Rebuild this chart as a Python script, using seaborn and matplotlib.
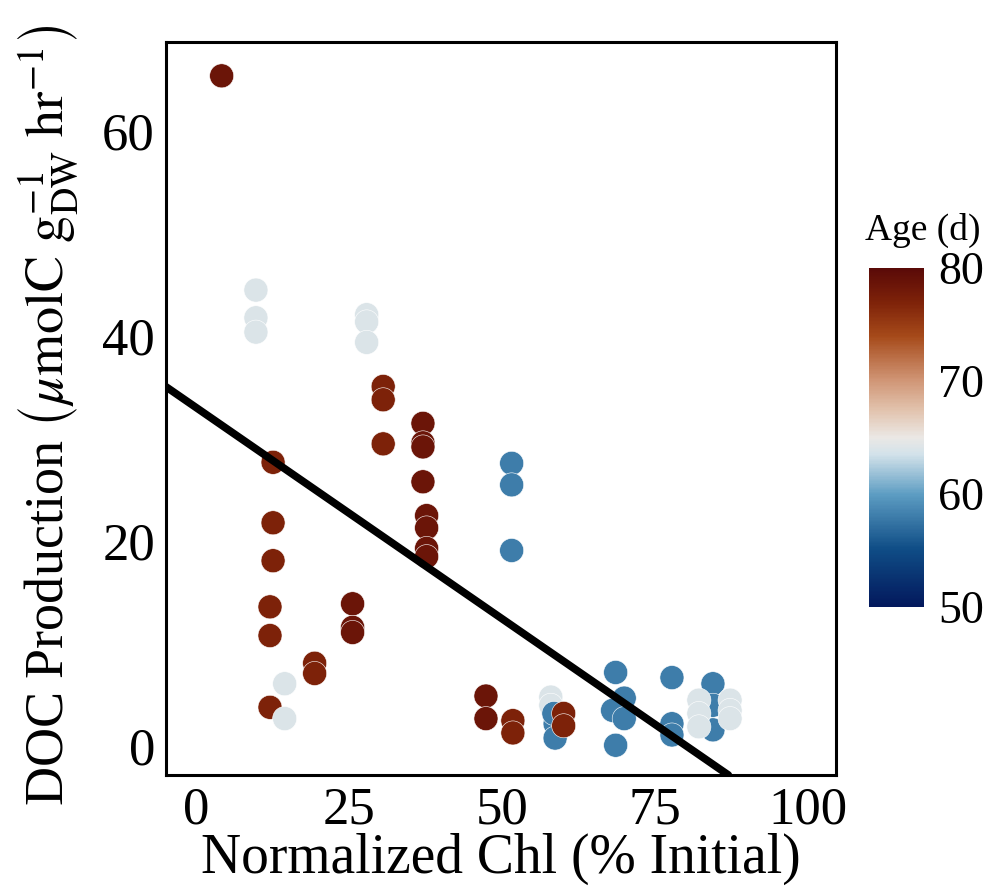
import numpy as np
import pandas as pd
import seaborn as sns
import matplotlib.pyplot as plt
from matplotlib.colors import LinearSegmentedColormap, Normalize
from matplotlib.cm import ScalarMappable

# ======= data =======
chl = [4.2,
       9.8, 9.8, 9.8,
       27.9, 27.9, 27.9,
       12.6, 12.6, 12.6, 12.1, 12.1, 12.1,
       14.5, 14.5,
       19.4, 19.4,
       25.6, 25.6, 25.6,
       30.6, 30.6, 30.6,
       37.1, 37.1, 37.1, 37.1, 37.7, 37.7, 37.7, 37.7,
       51.6, 51.6, 51.6,
       47.4, 47.4,
       51.8, 51.8,
       58.0, 58.0,
       58.7, 58.7, 58.5,
       60.1, 60.1,
       68.6, 70.0, 68.1, 70.0, 68.6,
       77.8, 77.8, 77.8,
       84.5, 84.5, 84.5,
       82.2, 82.2, 82.2,
       87.3, 87.3, 87.3]

doc = [65.4,
       44.5, 41.8, 40.4,
       42.1, 41.4, 39.4,
       27.7, 21.8, 18.1, 13.6, 10.8, 3.8,
       6.1, 2.7,
       8.1, 7.1,
       13.9, 11.6, 11.1,
       35.1, 33.8, 29.5,
       31.5, 29.6, 29.2, 25.8, 22.5, 21.3, 19.3, 18.5,
       27.6, 25.5, 19.1,
       4.9, 2.7,
       2.5, 1.3,
       4.8, 4.0,
       2.2, 0.8, 3.2,
       3.2, 2.0,
       7.2, 4.7, 3.5, 2.7, 0.1,
       6.7, 2.2, 1.1,
       6.1, 4.0, 1.6,
       4.5, 3.2, 1.9,
       4.5, 3.5, 2.7]

age = [78.5,
       64, 64, 64,
       64, 64, 64,
       77, 77, 77, 77, 77, 77,
       64, 64,
       77, 77,
       78.5, 78.5, 78.5,
       77, 77, 77,
       78.5, 78.5, 78.5, 78.5, 78.5, 78.5, 78.5, 78.5,
       58, 58, 58,
       78.5, 78.5,
       77, 77,
       64, 64,
       58, 58, 58,
       77, 77,
       58, 58, 58, 58, 58,
       58, 58, 58,
       58, 58, 58,
       64, 64, 64,
       64, 64, 64]

# linear fit shown in the figure
fit_intercept = 33.05
fit_slope = -0.412

df = pd.DataFrame({"chl": chl, "doc": doc, "age": age})

# ======= colour map (blue - white - brown) =======
cmap = LinearSegmentedColormap.from_list("vik_like", [
    (0.00, "#03185c"),
    (0.17, "#0f4d86"),
    (0.33, "#5c9cc2"),
    (0.45, "#d3e2ea"),
    (0.50, "#ebe8e5"),
    (0.58, "#e2c3ae"),
    (0.67, "#d09575"),
    (0.80, "#a64a1a"),
    (0.90, "#7e2209"),
    (1.00, "#5a0a08"),
])
norm = Normalize(50, 80)

sns.set_style("white")
plt.rcParams["font.family"] = ["Liberation Serif", "DejaVu Serif"]
plt.rcParams["mathtext.fontset"] = "stix"
plt.rcParams["text.color"] = "black"
plt.rcParams["axes.labelcolor"] = "black"

fig = plt.figure(figsize=(9.91, 8.92), dpi=100)
ax = fig.add_axes([0.1675, 0.1312, 0.676, 0.8217])

sns.scatterplot(data=df, x="chl", y="doc", hue="age", palette=cmap,
                hue_norm=norm, s=300, edgecolor="white", linewidth=0.4,
                legend=False, ax=ax, zorder=2)

ax.axline((0, fit_intercept), slope=fit_slope, color="black", lw=5.5, zorder=3)

ax.set_xlim(-4.9, 104.6)
ax.set_ylim(-2.8, 68.7)
ax.set_xticks([0, 25, 50, 75, 100])
ax.set_yticks([0, 20, 40, 60])
ax.tick_params(axis="both", direction="out", length=6, width=1.2,
               labelsize=38, color="#333333", labelcolor="black", pad=2)
for sp in ax.spines.values():
    sp.set_linewidth(2.2)
    sp.set_color("black")

ax.set_xlabel("Normalized Chl (% Initial)", fontsize=40, labelpad=-1)
ax.set_ylabel(r"DOC Production $\left(\mu\mathrm{molC\ g_{DW}^{-1}\ hr^{-1}}\right)$",
              fontsize=39)
ax.yaxis.set_label_coords(-0.128, 0.49)

# ======= colour bar =======
cax = fig.add_axes([0.877, 0.3195, 0.0555, 0.380])
sm = ScalarMappable(norm=norm, cmap=cmap)
cb = fig.colorbar(sm, cax=cax)
cb.outline.set_visible(False)
cb.set_ticks([50, 60, 70, 80])
cax.tick_params(axis="y", direction="in", length=5, width=1, color="white",
                labelsize=33, labelcolor="black", pad=10, left=True, right=True)
fig.text(0.873, 0.722, "Age (d)", fontsize=27, ha="left", va="bottom")

plt.savefig("out.png", dpi=100)
plt.close()
